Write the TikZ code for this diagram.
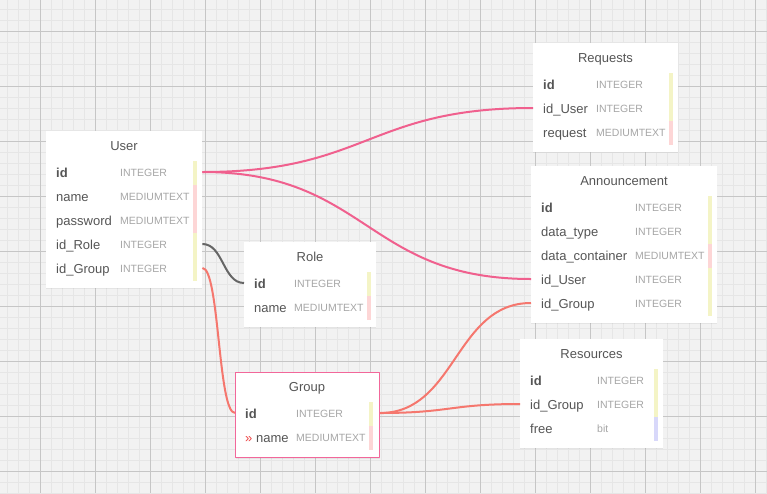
\documentclass[tikz,border=0pt]{standalone}
\usepackage{fontspec}
\setmainfont{Liberation Sans}
\usetikzlibrary{shadows}
\definecolor{gridbg}{HTML}{F2F2F2}
\definecolor{gridmin}{HTML}{E6E6E6}
\definecolor{gridmaj}{HTML}{C6C6C6}
\definecolor{txtdark}{HTML}{555555}
\definecolor{txtlight}{HTML}{A6A6A6}
\definecolor{keyc}{HTML}{F4F4C6}
\definecolor{strc}{HTML}{FDD6D6}
\definecolor{bitc}{HTML}{D8D8FA}
\definecolor{linkpink}{HTML}{F0608E}
\definecolor{linksalmon}{HTML}{F5776E}
\definecolor{linkgrey}{HTML}{666666}
\definecolor{selpink}{HTML}{F2679A}
\definecolor{selred}{HTML}{EE4444}
\begin{document}
\begin{tikzpicture}[x=1pt, y=-1pt, line join=round,
    tbl/.style={fill=white, anchor=north west, inner sep=0pt, drop shadow={shadow xshift=0pt, shadow yshift=-1pt, opacity=.12}},
    ttl/.style={text=txtdark, font=\fontsize{13}{15}\selectfont, text height=9.4pt, text depth=0pt, inner sep=0pt},
    fld/.style={text=txtdark, font=\fontsize{13}{15}\selectfont, anchor=west, text height=11.5pt, text depth=0pt, inner sep=0pt},
    typ/.style={text=txtlight, font=\fontsize{10.5}{12}\selectfont, anchor=west, text height=9.6pt, text depth=0pt, inner sep=0pt},
    link/.style={line width=2pt, line cap=butt}]
    \useasboundingbox (0,0) rectangle (767,493);
    % grid
    \fill[gridbg] (0,0) rectangle (767,493);
    \foreach \x in {7,18,...,767} \draw[gridmin, line width=1pt] (\x,0) -- (\x,493);
    \foreach \y in {9,20,...,493} \draw[gridmin, line width=1pt] (0,\y) -- (767,\y);
    \foreach \x in {40,95,...,767} \draw[gridmaj, line width=1pt] (\x,0) -- (\x,493);
    \foreach \y in {31,86,...,493} \draw[gridmaj, line width=1pt] (0,\y) -- (767,\y);

    % User
    \node[tbl, minimum width=156pt, minimum height=157pt] (user) at (46,131) {};
    \node[ttl] (user-t) at (124,146) {User};
    \foreach \i/\n/\t/\c in {1/\textbf{id}/INTEGER/keyc, 2/name/MEDIUMTEXT/strc, 3/password/MEDIUMTEXT/strc, 4/id\_Role/INTEGER/keyc, 5/id\_Group/INTEGER/keyc} {
        \node[fld] (user-\i) at (56,{148+24*\i}) {\n};
        \node[typ] (user-\i-t) at (120,{148+24*\i}) {\t};
        \fill[\c] (193,{137+24*\i}) rectangle +(4,24);
    }

    % Role
    \node[tbl, minimum width=132pt, minimum height=85pt] (role) at (244,242) {};
    \node[ttl] (role-t) at (310,257) {Role};
    \foreach \i/\n/\t/\c in {1/\textbf{id}/INTEGER/keyc, 2/name/MEDIUMTEXT/strc} {
        \node[fld] (role-\i) at (254,{259+24*\i}) {\n};
        \node[typ] (role-\i-t) at (294,{259+24*\i}) {\t};
        \fill[\c] (367,{248+24*\i}) rectangle +(4,24);
    }

    % Group
    \node[tbl, draw=selpink, line width=1pt, minimum width=144pt, minimum height=85pt] (group) at (235,372) {};
    \node[ttl] (group-t) at (307,387) {Group};
    \foreach \i/\n/\t/\c in {1/\textbf{id}/INTEGER/keyc, 2/{\textcolor{selred}{»} name}/MEDIUMTEXT/strc} {
        \node[fld] (group-\i) at (245,{389+24*\i}) {\n};
        \node[typ] (group-\i-t) at (296,{389+24*\i}) {\t};
        \fill[\c] (369,{378+24*\i}) rectangle +(4,24);
    }

    % Requests
    \node[tbl, minimum width=145pt, minimum height=109pt] (requests) at (533,43) {};
    \node[ttl] (requests-t) at (605.5,58) {Requests};
    \foreach \i/\n/\t/\c in {1/\textbf{id}/INTEGER/keyc, 2/id\_User/INTEGER/keyc, 3/request/MEDIUMTEXT/strc} {
        \node[fld] (requests-\i) at (543,{60+24*\i}) {\n};
        \node[typ] (requests-\i-t) at (596,{60+24*\i}) {\t};
        \fill[\c] (669,{49+24*\i}) rectangle +(4,24);
    }

    % Announcement
    \node[tbl, minimum width=186pt, minimum height=157pt] (announce) at (531,166) {};
    \node[ttl] (announce-t) at (624,181) {Announcement};
    \foreach \i/\n/\t/\c in {1/\textbf{id}/INTEGER/keyc, 2/data\_type/INTEGER/keyc, 3/data\_container/MEDIUMTEXT/strc, 4/id\_User/INTEGER/keyc, 5/id\_Group/INTEGER/keyc} {
        \node[fld] (announce-\i) at (541,{183+24*\i}) {\n};
        \node[typ] (announce-\i-t) at (635,{183+24*\i}) {\t};
        \fill[\c] (708,{172+24*\i}) rectangle +(4,24);
    }

    % Resources
    \node[tbl, minimum width=143pt, minimum height=109pt] (resources) at (520,339) {};
    \node[ttl] (resources-t) at (591.5,354) {Resources};
    \foreach \i/\n/\t/\c in {1/\textbf{id}/INTEGER/keyc, 2/id\_Group/INTEGER/keyc, 3/free/bit/bitc} {
        \node[fld] (resources-\i) at (530,{356+24*\i}) {\n};
        \node[typ] (resources-\i-t) at (597,{356+24*\i}) {\t};
        \fill[\c] (654,{345+24*\i}) rectangle +(4,24);
    }

    % relations
    \draw[link, linkpink] (user.east |- user-1) .. controls +(165,0) and +(-165,0) .. (requests.west |- requests-2);
    \draw[link, linkpink] (user.east |- user-1) .. controls +(165,0) and +(-165,0) .. (announce.west |- announce-4);
    \draw[link, linkgrey] (user.east |- user-4) .. controls +(21,0) and +(-21,0) .. (role.west |- role-1);
    \draw[link, linksalmon] (user.east |- user-5) .. controls +(17,0) and +(-17,0) .. (group.west |- group-1);
    \draw[link, linksalmon] (group.east |- group-1) .. controls +(76,0) and +(-76,0) .. (announce.west |- announce-5);
    \draw[link, linksalmon] (group.east |- group-1) .. controls +(70,0) and +(-70,0) .. (resources.west |- resources-2);
\end{tikzpicture}
\end{document}
